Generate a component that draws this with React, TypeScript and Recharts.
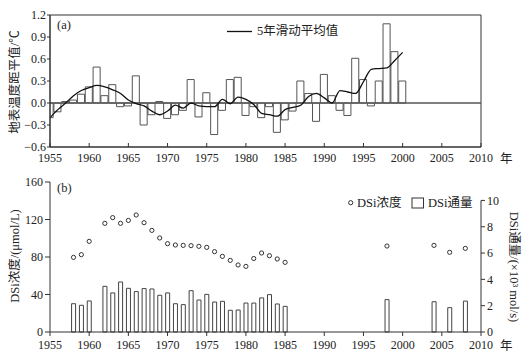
import React from "react";
import {
  ComposedChart,
  Bar,
  Line,
  XAxis,
  YAxis,
  ReferenceLine,
  ReferenceArea,
} from "recharts";

const yearTicks = [1955, 1960, 1965, 1970, 1975, 1980, 1985, 1990, 1995, 2000, 2005, 2010];

// (a) surface temperature anomaly, 1955-2000
const tempYears = [
  1955, 1956, 1957, 1958, 1959, 1960, 1961, 1962, 1963, 1964, 1965, 1966, 1967, 1968, 1969,
  1970, 1971, 1972, 1973, 1974, 1975, 1976, 1977, 1978, 1979, 1980, 1981, 1982, 1983, 1984,
  1985, 1986, 1987, 1988, 1989, 1990, 1991, 1992, 1993, 1994, 1995, 1996, 1997, 1998, 1999,
  2000,
];
const tempAnomaly = [
  -0.2, -0.12, 0.02, 0.04, 0.12, 0.22, 0.49, 0.1, 0.25, -0.05, -0.04, 0.37, -0.3, -0.16, 0.02,
  -0.21, -0.16, -0.1, 0.32, -0.19, 0.14, -0.43, -0.1, 0.32, 0.35, -0.17, -0.05, -0.2, -0.05, -0.4,
  -0.23, -0.11, 0.3, 0.13, -0.25, 0.39, 0.1, -0.1, -0.17, 0.61, 0.32, -0.04, 0.3, 1.08, 0.7,
  0.3,
];
const tempMovingAvg = [
  -0.2, -0.09, 0.0, 0.1, 0.17, 0.21, 0.24, 0.22, 0.18, 0.13, 0.04, -0.01, -0.04, -0.11, -0.16,
  -0.11, -0.03, -0.07, 0.0, -0.04, -0.05, -0.05, 0.05, -0.01, 0.08, 0.05, -0.02, -0.14, -0.16, -0.18,
  -0.09, -0.06, -0.03, 0.09, 0.13, 0.07, 0.0, 0.17, 0.15, 0.13, 0.29, 0.46, 0.47, 0.48, 0.58,
  0.69,
];
const tempTicks = [-0.6, -0.3, 0, 0.3, 0.6, 0.9, 1.2];

// (b) DSi concentration and flux
const dsiYears = [
  1958, 1959, 1960, 1962, 1963, 1964, 1965, 1966, 1967, 1968, 1969, 1970, 1971, 1972, 1973,
  1974, 1975, 1976, 1977, 1978, 1979, 1980, 1981, 1982, 1983, 1984, 1985, 1998, 2004, 2006,
  2008,
];
const dsiConc = [
  79.6, 82.5, 96.7, 115.9, 122, 115.9, 119, 124.8, 116.6, 108.4, 100.3, 94.2, 92.8, 92.4, 92.1,
  91.4, 90.3, 85.7, 80.7, 76.4, 71.5, 70, 78.4, 84.3, 81.4, 77.9, 74.3, 91.7, 92.4, 85, 89.2,
];
const dsiFlux = [
  2.15, 2.03, 2.36, 3.47, 2.97, 3.8, 3.32, 3.07, 3.3, 3.27, 2.79, 2.97, 2.15, 2.08, 3.14,
  2.43, 2.86, 2.28, 2.33, 1.65, 1.67, 2.2, 2.2, 2.59, 2.84, 2.13, 1.95, 2.46, 2.3, 1.85, 2.35,
];
const concTicks = [0, 40, 80, 120, 160];
const fluxTicks = [0, 2, 4, 6, 8, 10];

const tempData = tempYears.map((year, i) => ({
  year,
  anomaly: tempAnomaly[i],
  avg: tempMovingAvg[i],
}));

const dsiData = dsiYears.map((year, i) => ({
  year,
  conc: dsiConc[i],
  flux: dsiFlux[i],
}));

const AXIS = "#333";
const TEXT = "#222";
const SERIF = "'Liberation Serif', 'Times New Roman', 'Noto Sans CJK SC', serif";
const tickFont = { fill: TEXT, fontSize: 12, fontFamily: SERIF };

const fmtSigned = (v: number) => (v < 0 ? "\u2212" + Math.abs(v).toFixed(1) : v.toFixed(1));

function Circle(props: any) {
  const { cx, cy } = props;
  if (cx == null || cy == null) return null;
  return <circle cx={cx} cy={cy} r={2.1} fill="white" stroke="#333" strokeWidth={1} />;
}

export default function App() {
  return (
    <div
      style={{
        position: "fixed",
        left: 0,
        top: 0,
        width: 523,
        height: 359,
        background: "white",
        fontFamily: SERIF,
      }}
    >
      <div style={{ position: "absolute", left: 0, top: 0 }}>
        <ComposedChart
          width={523}
          height={170}
          data={tempData}
          margin={{ top: 15, right: 42, bottom: 0, left: 0 }}
        >
          <XAxis
            dataKey="year"
            type="number"
            domain={[1955, 2010]}
            ticks={yearTicks}
            allowDataOverflow
            height={23}
            stroke={AXIS}
            tick={tickFont}
            tickSize={-4}
            tickMargin={10.5}
            interval={0}
          />
          <YAxis
            domain={[-0.6, 1.2]}
            ticks={tempTicks}
            width={50}
            stroke={AXIS}
            tick={tickFont}
            tickSize={3}
            tickMargin={1}
            tickFormatter={fmtSigned}
            interval={0}
          />
          <ReferenceArea
            x1={1955}
            x2={2010}
            y1={-0.6}
            y2={1.2}
            fill="none"
            stroke={AXIS}
            strokeWidth={1}
          />
          <ReferenceLine y={0} stroke="#555" strokeWidth={1.3} />
          <Bar
            dataKey="anomaly"
            barSize={7.84}
            fill="none"
            stroke="#555"
            strokeWidth={1}
            isAnimationActive={false}
          />
          <Line
            dataKey="avg"
            type="monotone"
            stroke="#111"
            strokeWidth={1.3}
            dot={false}
            isAnimationActive={false}
          />
        </ComposedChart>
      </div>

      <div style={{ position: "absolute", left: 0, top: 170 }}>
        <ComposedChart
          width={523}
          height={189}
          data={dsiData}
          margin={{ top: 12, right: 0, bottom: 0, left: 0 }}
        >
          <XAxis
            dataKey="year"
            type="number"
            domain={[1955, 2010]}
            ticks={yearTicks}
            height={27}
            stroke={AXIS}
            tick={tickFont}
            tickSize={4}
            tickMargin={4.5}
            interval={0}
          />
          <YAxis
            yAxisId="left"
            domain={[0, 160]}
            ticks={concTicks}
            width={50}
            stroke={AXIS}
            tick={tickFont}
            tickSize={5}
            tickMargin={2}
            interval={0}
          />
          <YAxis
            yAxisId="right"
            orientation="right"
            domain={[0, 11.4]}
            ticks={fluxTicks}
            width={42}
            stroke={AXIS}
            axisLine={false}
            tick={tickFont}
            tickSize={4}
            tickMargin={2}
            interval={0}
          />
          <ReferenceLine
            yAxisId="right"
            segment={[
              { x: 2010, y: 0 },
              { x: 2010, y: 10 },
            ]}
            stroke={AXIS}
          />
          <Bar
            yAxisId="right"
            dataKey="flux"
            barSize={4}
            fill="white"
            stroke="#444"
            strokeWidth={1}
            isAnimationActive={false}
          />
          <Line
            yAxisId="left"
            dataKey="conc"
            stroke="none"
            dot={<Circle />}
            isAnimationActive={false}
          />
        </ComposedChart>
      </div>

      <svg
        width={523}
        height={359}
        style={{ position: "absolute", left: 0, top: 0, pointerEvents: "none" }}
      >
        <g fill={TEXT} fontFamily={SERIF} fontSize={12.5}>
          <text x={57} y={29}>(a)</text>
          <line x1={227} x2={252} y1={31.5} y2={31.5} stroke="#111" strokeWidth={1.3} />
          <text x={257} y={35}>5年滑动平均值</text>
          <text x={500} y={163}>年</text>
          <text transform="translate(19,82) rotate(-90)" textAnchor="middle">
            地表温度距平值/℃
          </text>

          <text x={57} y={192}>(b)</text>
          <circle cx={350.7} cy={202.7} r={2.1} fill="white" stroke="#333" />
          <text x={357} y={207}>DSi浓度</text>
          <rect x={412} y={198} width={11.5} height={10} fill="white" stroke="#333" />
          <text x={428} y={207}>DSi通量</text>
          <text x={500} y={350}>年</text>
          <text transform="translate(19,256) rotate(-90)" textAnchor="middle">
            DSi浓度/(μmol/L)
          </text>
          <text transform="translate(510,267) rotate(90)" textAnchor="middle">
            DSi通量/(×10³ mol/s)
          </text>
        </g>
      </svg>
    </div>
  );
}
